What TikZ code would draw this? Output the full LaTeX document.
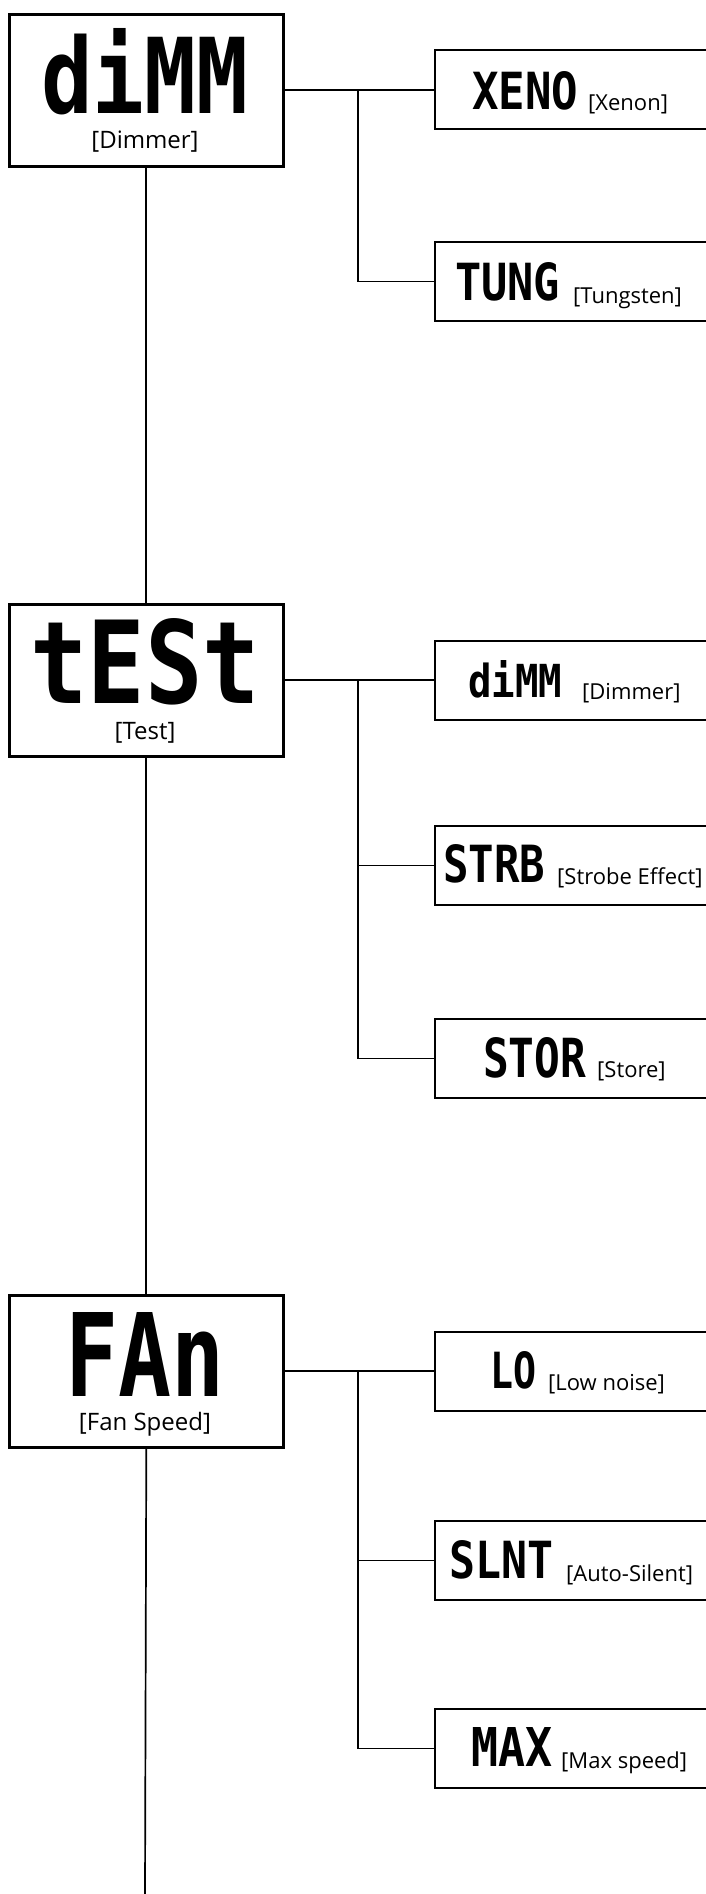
\documentclass[tikz,border=0pt]{standalone}
\usepackage{graphicx}
\usepackage{fontspec}
\setmainfont{Open Sans}
\newfontfamily\segfont{DejaVu Sans Mono}
\newcommand\segtxt[3]{\resizebox{#1pt}{#2pt}{\segfont\bfseries #3}}
\begin{document}
\begin{tikzpicture}[x=1pt,y=-1pt,
  mainbox/.style={draw, line width=2.6pt, minimum width=274pt, minimum height=152pt, inner sep=0pt, anchor=north west},
  childbox/.style={draw, line width=2.2pt, minimum width=290pt, minimum height=79pt, inner sep=0pt, anchor=north west},
  link/.style={line width=1.7pt},
  seg/.style={inner sep=0pt, anchor=south west},
  lab/.style={inner sep=0pt, anchor=base west, font=\fontsize{22}{22}\selectfont},
  mainlab/.style={inner sep=0pt, anchor=base, font=\fontsize{24}{24}\selectfont}]
\useasboundingbox[fill=white] (0,0) rectangle (705,1894);
\coordinate (bx) at (358,0);
\coordinate (endc) at (145,1896);

% ---- main boxes
\node[mainbox] (dimm) at (8,13) {};
\node[seg] (dimms) at (41,115) {\segtxt{207}{85}{diMM}};
\node[mainlab] (dimml) at (145,149) {[Dimmer]};

\node[mainbox] (test) at (8,603) {};
\node[seg] (tests) at (30,705) {\segtxt{230}{85}{tESt}};
\node[mainlab] (testl) at (145,739) {[Test]};

\node[mainbox] (fan) at (8,1294) {};
\node[seg] (fans) at (65,1397) {\segtxt{159}{84}{FAn}};
\node[mainlab] (fanl) at (145,1430) {[Fan Speed]};

% ---- child boxes
\node[childbox] (xeno) at (434,49) {};
\node[seg] (xenos) at (472,110) {\segtxt{106}{38}{XENO}};
\node[lab] (xenol) at (588,111) {[Xenon]};

\node[childbox] (tung) at (434,241) {};
\node[seg] (tungs) at (455,301) {\segtxt{105}{38}{TUNG}};
\node[lab] (tungl) at (573,303) {[Tungsten]};

\node[childbox] (tdim) at (434,640) {};
\node[seg] (tdims) at (468,698) {\segtxt{94}{37}{diMM}};
\node[lab] (tdiml) at (582,699) {[Dimmer]};

\node[childbox] (strb) at (434,825) {};
\node[seg] (strbs) at (443,883) {\segtxt{102}{38}{STRB}};
\node[lab] (strbl) at (557,884) {[Strobe Effect]};

\node[childbox] (stor) at (434,1018) {};
\node[seg] (stors) at (483,1078) {\segtxt{103}{40}{STOR}};
\node[lab] (storl) at (597,1077) {[Store]};

\node[childbox] (lo) at (434,1331) {};
\node[seg] (los) at (490,1389) {\segtxt{46}{37}{LO}};
\node[lab] (lol) at (548,1390) {[Low noise]};

\node[childbox] (slnt) at (434,1520) {};
\node[seg] (slnts) at (449,1579) {\segtxt{104}{38}{SLNT}};
\node[lab] (slntl) at (566,1581) {[Auto-Silent]};

\node[childbox] (max) at (434,1708) {};
\node[seg] (maxs) at (471,1767) {\segtxt{81}{39}{MAX}};
\node[lab] (maxl) at (561,1768) {[Max speed]};

% ---- connectors
\draw[link] (dimm.south) -- (test.north);
\draw[link] (test.south) -- (fan.north);
\draw[link] (fan.south) -- (endc);

\coordinate (b1) at (dimm.east -| bx);
\draw[link] (dimm.east) -- (dimm.east -| xeno.west);
\draw[link] (b1) |- (tung.west);

\coordinate (b2) at (test.east -| bx);
\draw[link] (test.east) -- (test.east -| tdim.west);
\draw[link] (b2) |- (strb.west);
\draw[link] (b2) |- (stor.west);

\coordinate (b3) at (fan.east -| bx);
\draw[link] (fan.east) -- (fan.east -| lo.west);
\draw[link] (b3) |- (slnt.west);
\draw[link] (b3) |- (max.west);
\end{tikzpicture}
\end{document}
